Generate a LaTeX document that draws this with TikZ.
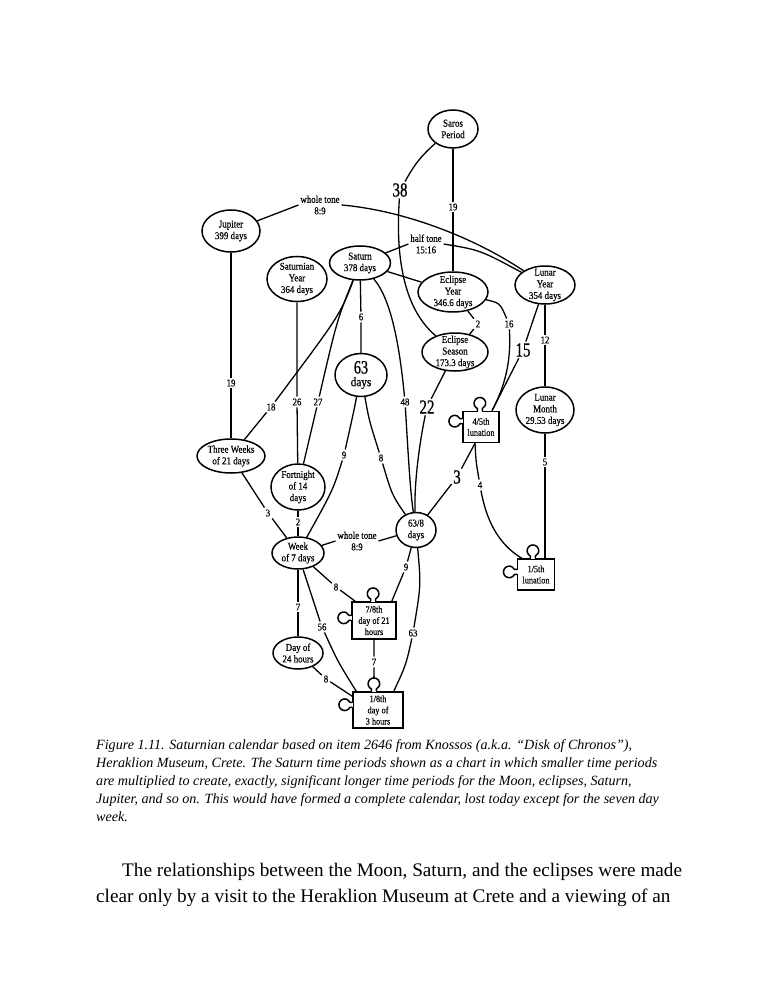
\documentclass[tikz,border=0pt]{standalone}
\usepackage{fontspec}
\setmainfont{Liberation Serif}
\newfontfamily\dfont[FakeStretch=0.86,FakeBold=0.4]{Liberation Serif}
\newfontfamily\bfont[FakeStretch=0.75,FakeBold=0.8]{Liberation Serif}
\usetikzlibrary{shapes.geometric,calc}
\tikzset{
  conn/.style={line width=1.3pt, black},
  ell/.style={ellipse, draw, line width=1.5pt, inner sep=-6pt, align=center, fill=white,
              font=\dfont\fontsize{10.4}{11.6}\selectfont},
  puz/.style={line width=1.5pt, line join=round},
  puzbox/.style={rectangle, draw, line width=1.5pt, inner sep=0pt, align=center, fill=white,
              font=\dfont\fontsize{9.6}{11.2}\selectfont},
  lab/.style={inner sep=1.8pt, font=\dfont\fontsize{10.3}{11.5}\selectfont},
  biglab/.style={inner sep=1.5pt, font=\bfont\fontsize{20}{20}\selectfont},
  captxt/.style={inner sep=0pt, anchor=base west, font=\itshape\fontsize{14.1}{17}\selectfont},
  bodytxt/.style={inner sep=0pt, anchor=base west, font=\fontsize{19.2}{22}\selectfont}
}
\newcommand{\puzknob}[2]{%
  \begin{scope}[shift={#1},rotate=#2]
    \fill[white] (-2.1,-1.2) rectangle (2.1,3);
    \draw[puz] (-2.5,0) -- (-2.5,2.27) arc[start angle=244.45,end angle=-64.45,radius=5.8] -- (2.5,0);
  \end{scope}}
\begin{document}
\begin{tikzpicture}[x=1pt,y=1pt]
\fill[white] (0,0) rectangle (772,-1000);
\useasboundingbox (0,0) rectangle (772,-1000);

% ---- nodes
\node[ell, minimum width=50, minimum height=38] (saros) at (453,-129) {Saros\\Period};
\node[ell, minimum width=58, minimum height=42] (jup) at (231,-231) {Jupiter\\399 days};
\node[ell, minimum width=60, minimum height=45] (satyr) at (297,-279) {Saturnian\\Year\\364 days};
\node[ell, minimum width=61, minimum height=34] (sat) at (360,-263) {Saturn\\378 days};
\node[ell, minimum width=70, minimum height=40] (ecyr) at (453,-292) {Eclipse\\Year\\346.6 days};
\node[ell, minimum width=60, minimum height=38] (lunyr) at (545,-285) {Lunar\\Year\\354 days};
\node[ell, minimum width=66, minimum height=38] (ecsea) at (455,-352) {Eclipse\\Season\\173.3 days};
\node[ell, minimum width=52, minimum height=43] (c63) at (361,-375)
  {{\bfont\fontsize{19}{19}\selectfont 63}\\[1pt]{\fontsize{13}{13}\selectfont days}};
\node[ell, minimum width=58, minimum height=46] (lunmo) at (545,-410) {Lunar\\Month\\29.53 days};
\node[puzbox, minimum width=36, minimum height=31] (luna45) at (481,-427) {4/5th\\lunation};
\node[ell, minimum width=68, minimum height=34] (three) at (231,-456) {Three Weeks\\of 21 days};
\node[ell, minimum width=54, minimum height=46] (fort) at (298,-487) {Fortnight\\of 14\\days};
\node[ell, minimum width=40, minimum height=35] (c638) at (416,-530) {63/8\\days};
\node[ell, minimum width=52, minimum height=32] (week) at (298,-553) {Week\\of 7 days};
\node[puzbox, minimum width=37, minimum height=31] (luna15) at (536,-574.5) {1/5th\\lunation};
\node[puzbox, minimum width=44, minimum height=37] (day78) at (374,-620.5) {7/8th\\day of 21\\hours};
\node[ell, minimum width=50, minimum height=32] (day24) at (298,-653) {Day of\\24 hours};
\node[puzbox, minimum width=50, minimum height=36] (day18) at (378,-710) {1/8th\\day of\\3 hours};

% ---- puzzle knobs
\puzknob{($(luna45.north west)!0.47!(luna45.north east)$)}{0}
\puzknob{($(luna45.north west)!0.32!(luna45.south west)$)}{90}
\puzknob{($(luna15.north west)!0.42!(luna15.north east)$)}{0}
\puzknob{($(luna15.north west)!0.42!(luna15.south west)$)}{90}
\puzknob{($(day78.north west)!0.48!(day78.north east)$)}{0}
\puzknob{($(day78.north west)!0.43!(day78.south west)$)}{90}
\puzknob{($(day18.north west)!0.42!(day18.north east)$)}{0}
\puzknob{($(day18.north west)!0.36!(day18.south west)$)}{90}
\coordinate (k18) at ($(day18.north west)!0.42!(day18.north east)+(0,13.3)$);

% ---- labels
\node[lab, align=center] (ww) at (320,-205) {whole tone\\8:9};
\node[lab, align=center] (ht) at (426,-244) {half tone\\15:16};
\node[lab] (l19a) at (453,-207) {19};
\node[biglab] (l38) at (400,-190) {38};
\node[lab] (l2a) at (478,-324) {2};
\node[lab] (l16) at (509,-324) {16};
\node[biglab] (l15) at (523,-350) {15};
\node[lab] (l12) at (545,-340) {12};
\node[lab] (l5) at (545,-462) {5};
\node[lab] (l4) at (480,-485) {4};
\node[biglab] (l3) at (457,-477) {3};
\node[biglab] (l22) at (427,-407) {22};
\node[lab] (l48) at (405,-402) {48};
\node[lab] (l6) at (361,-317) {6};
\node[lab] (l9a) at (344,-455) {9};
\node[lab] (l8a) at (381,-458) {8};
\node[lab] (l27) at (318,-402) {27};
\node[lab] (l26) at (297,-402) {26};
\node[lab] (l18) at (271,-407) {18};
\node[lab] (l19b) at (231,-383) {19};
\node[lab] (l3b) at (268,-513) {3};
\node[lab] (l2b) at (298,-522) {2};
\node[lab, align=center] (wt) at (357,-541) {whole tone\\8:9};
\node[lab] (l8b) at (336,-587) {8};
\node[lab] (l9b) at (406,-567) {9};
\node[lab] (l7a) at (298,-607) {7};
\node[lab] (l56) at (322,-627) {56};
\node[lab] (l7b) at (374,-662) {7};
\node[lab] (l8c) at (326,-679) {8};
\node[lab] (l63) at (413,-633) {63};

% ---- connectors
\draw[conn] (jup) -- (ww.west);
\draw[conn] (ww.east) .. controls (400,-210) and (470,-235) .. (lunyr);
\draw[conn] (sat) -- (ht.west);
\draw[conn] (ht.east) .. controls (480,-250) .. (lunyr);
\draw[conn] (sat) -- (ecyr);
\draw[conn] (saros) -- (l19a) -- (ecyr);
\draw[conn] (saros) to[bend right=10] (l38);
\draw[conn] (l38) .. controls (395,-260) and (405,-310) .. (ecsea);
\draw[conn] (ecyr) -- (l2a) -- (ecsea);
\draw[conn] (ecyr) .. controls (500,-303) .. (l16);
\draw[conn] (l16) .. controls (512,-370) and (500,-395) .. ($(luna45.north)+(11,0)$);
\draw[conn] (lunyr) -- (l15) -- ($(luna45.north)+(11,0)$);
\draw[conn] (lunyr) -- (l12) -- (lunmo);
\draw[conn] (lunmo) -- (l5) -- (l5 |- luna15.north);
\draw[conn] ($(luna45.south)+(-6,0)$) .. controls (476,-462) .. (l4);
\draw[conn] (l4) .. controls (488,-530) and (505,-548) .. ($(luna15.north west)+(5,0)$);
\draw[conn] ($(luna45.south)+(-6,0)$) -- (l3) -- (c638);
\draw[conn] (ecsea) -- (l22);
\draw[conn] (l22) .. controls (418,-450) and (414,-490) .. (c638);
\draw[conn] (sat) .. controls (392,-300) and (400,-350) .. (l48);
\draw[conn] (l48) .. controls (408,-450) and (410,-490) .. (c638);
\draw[conn] (sat) -- (l6) -- (c63);
\draw[conn] (c63) .. controls (353,-415) .. (l9a);
\draw[conn] (l9a) .. controls (333,-490) .. (week);
\draw[conn] (c63) .. controls (369,-420) .. (l8a);
\draw[conn] (l8a) .. controls (392,-495) .. (c638);
\draw[conn] (sat) .. controls (337,-320) .. (l27);
\draw[conn] (l27) -- (fort);
\draw[conn] (sat) .. controls (340,-315) .. (l18);
\draw[conn] (l18) -- (three);
\draw[conn] (satyr) -- (l26) -- (fort);
\draw[conn] (jup) -- (l19b) -- (three);
\draw[conn] (three) -- (l3b) -- (week);
\draw[conn] (fort) -- (l2b) -- (week);
\draw[conn] (week) -- (wt.west);
\draw[conn] (wt.east) -- (c638);
\draw[conn] (week) -- (l8b) -- ($(day78.north west)+(4,0)$);
\draw[conn] (c638) -- (l9b) -- ($(day78.north east)+(-5,0)$);
\draw[conn] (week) -- (l7a) -- (day24);
\draw[conn] (week) .. controls (311,-595) .. (l56);
\draw[conn] (l56) .. controls (338,-662) .. ($(day18.north west)+(4,0)$);
\draw[conn] (day78) -- (l7b) -- (k18);
\draw[conn] (day24) -- (l8c) -- ($(day18.north west)+(0,-5)$);
\draw[conn] (c638) .. controls (421,-585) .. (l63);
\draw[conn] (l63) .. controls (406,-665) .. ($(day18.north east)+(-10,0)$);

% ---- caption and body text
\node[captxt] (cap1) at (96,-749) {Figure 1.11. Saturnian calendar based on item 2646 from Knossos (a.k.a. “Disk of Chronos”),};
\node[captxt] (cap2) at (96,-767) {Heraklion Museum, Crete. The Saturn time periods shown as a chart in which smaller time periods};
\node[captxt] (cap3) at (96,-785) {are multiplied to create, exactly, significant longer time periods for the Moon, eclipses, Saturn,};
\node[captxt] (cap4) at (96,-803) {Jupiter, and so on. This would have formed a complete calendar, lost today except for the seven day};
\node[captxt] (cap5) at (96,-821) {week.};
\node[bodytxt] (b1) at (122,-876) {The relationships between the Moon, Saturn, and the eclipses were made};
\node[bodytxt] (b2) at (96,-902) {clear only by a visit to the Heraklion Museum at Crete and a viewing of an};
\end{tikzpicture}
\end{document}
